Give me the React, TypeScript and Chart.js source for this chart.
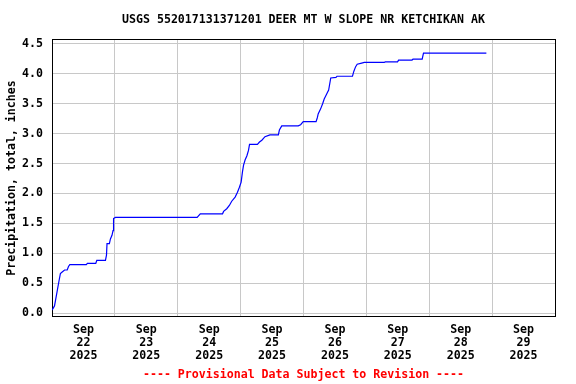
import { useEffect, useRef } from "react";
import { Chart, registerables } from "chart.js";

Chart.register(...registerables);

// hours since 2025-09-22 00:00
const HOURS = [
  0, 0.95, 1.7, 2.6, 3.2, 4.0, 4.8, 5.8, 6.3, 6.8, 13.1, 13.5, 16.7, 17.1, 20.4, 20.8, 21.0, 21.9, 22.3, 22.9,
  23.3, 23.5, 24.2, 55.4, 56.6, 65.1, 65.5, 66.7, 67.7, 68.6, 69.9, 70.8, 71.5, 72.2, 72.7, 73.1, 73.7, 74.4,
  75.0, 75.4, 78.4, 79.2, 80.1, 81.3, 83.2, 86.4, 86.8, 87.7, 94.0, 94.9, 95.9, 100.8, 101.3, 101.6, 102.5,
  103.3, 103.9, 104.8, 105.6, 106.4, 108.4, 108.8, 114.7, 115.2, 115.9, 116.5, 118.2, 119.2, 126.8, 127.2,
  131.9, 132.3, 137.4, 137.8, 141.3, 141.8, 165.8,
];
const PRECIP = [
  0.05, 0.12, 0.3, 0.52, 0.66, 0.69, 0.72, 0.72, 0.78, 0.81, 0.81, 0.83, 0.83, 0.88, 0.88, 0.97, 1.16, 1.16,
  1.24, 1.3, 1.38, 1.58, 1.6, 1.6, 1.66, 1.66, 1.7, 1.745, 1.8, 1.87, 1.94, 2.02, 2.1, 2.19, 2.36, 2.47, 2.56,
  2.63, 2.72, 2.82, 2.82, 2.86, 2.89, 2.95, 2.98, 2.98, 3.06, 3.13, 3.13, 3.15, 3.2, 3.2, 3.27, 3.33, 3.41,
  3.5, 3.58, 3.66, 3.73, 3.93, 3.94, 3.96, 3.96, 4.04, 4.12, 4.16, 4.18, 4.19, 4.19, 4.2, 4.2, 4.23, 4.23,
  4.245, 4.245, 4.345, 4.345,
];
const DAY_LABELS = ["22", "23", "24", "25", "26", "27", "28", "29"];
const MONTH = "Sep";
const YEAR = "2025";
const Y_TICKS = [0, 0.5, 1, 1.5, 2, 2.5, 3, 3.5, 4, 4.5];
const TITLE = "USGS 552017131371201 DEER MT W SLOPE NR KETCHIKAN AK";
const Y_TITLE = "Precipitation, total, inches";
const FOOTER = "---- Provisional Data Subject to Revision ----";

const FONT = "'DejaVu Sans Mono', monospace";

export default function App() {
  const ref = useRef<HTMLCanvasElement | null>(null);
  useEffect(() => {
    document.body.style.margin = "0";
    if (!ref.current) return;
    const font = { family: FONT, size: 11.6, weight: "bold" as const };
    const chart = new Chart(ref.current, {
      type: "line",
      data: {
        datasets: [
          {
            data: HOURS.map((h, i) => ({ x: h, y: PRECIP[i] })),
            borderColor: "#0000ff",
            borderWidth: 1.2,
            pointRadius: 0,
            tension: 0,
            fill: false,
          },
        ],
      },
      options: {
        animation: false,
        responsive: false,
        layout: { padding: { left: 0, right: 21, top: 0, bottom: 0 } },
        plugins: {
          legend: { display: false },
          tooltip: { enabled: false },
          title: {
            display: true,
            text: TITLE,
            color: "#000",
            font,
            fullSize: false,
            padding: { top: 13, bottom: 13 },
          },
          subtitle: {
            display: true,
            position: "bottom",
            text: FOOTER,
            color: "#ff0000",
            font,
            fullSize: false,
            padding: { top: 6, bottom: 2 },
          },
        },
        scales: {
          x: {
            type: "linear",
            position: "bottom",
            min: 0,
            max: 192,
            afterBuildTicks: (axis: any) => {
              axis.ticks = DAY_LABELS.map((_, i) => ({ value: 12 + 24 * i }));
            },
            afterFit: (axis: any) => {
              axis.height = 46;
            },
            grid: { display: false, drawTicks: false },
            border: { display: true, color: "#000", width: 1 },
            ticks: {
              autoSkip: false,
              maxRotation: 0,
              color: "#000",
              font: { ...font, lineHeight: 1.12 },
              padding: 7,
              callback: (v: any) => {
                const i = Math.round((Number(v) - 12) / 24);
                return [MONTH, DAY_LABELS[i], YEAR];
              },
            },
          },
          xg: {
            type: "linear",
            position: "top",
            min: 0,
            max: 192,
            afterBuildTicks: (axis: any) => {
              axis.ticks = [0, 1, 2, 3, 4, 5, 6, 7, 8].map((i) => ({ value: 24 * i }));
            },
            afterFit: (axis: any) => {
              axis.height = 0;
            },
            grid: { display: true, drawTicks: false, color: "#c8c8c8", lineWidth: 1 },
            border: { display: true, color: "#000", width: 1 },
            ticks: { display: false },
          },
          y: {
            type: "linear",
            position: "left",
            min: -0.05,
            max: 4.567,
            afterBuildTicks: (axis: any) => {
              axis.ticks = Y_TICKS.map((v) => ({ value: v }));
            },
            afterFit: (axis: any) => {
              axis.width = 52;
            },
            grid: { display: true, drawTicks: false, color: "#c8c8c8", lineWidth: 1 },
            border: { display: true, color: "#000", width: 1 },
            ticks: {
              color: "#000",
              font,
              padding: 9,
              callback: (v: any) => Number(v).toFixed(1),
            },
            title: {
              display: true,
              text: Y_TITLE,
              color: "#000",
              font,
              padding: { top: 5, bottom: 0 },
            },
          },
          yr: {
            type: "linear",
            position: "right",
            min: -0.05,
            max: 4.567,
            afterFit: (axis: any) => {
              axis.width = 0;
            },
            grid: { display: false, drawTicks: false },
            border: { display: true, color: "#000", width: 1 },
            ticks: { display: false },
          },
        },
      },
    });
    return () => chart.destroy();
  }, []);
  return (
    <div style={{ width: 576, height: 384 }}>
      <canvas ref={ref} width={576} height={384} style={{ display: "block", width: 576, height: 384 }} />
    </div>
  );
}
